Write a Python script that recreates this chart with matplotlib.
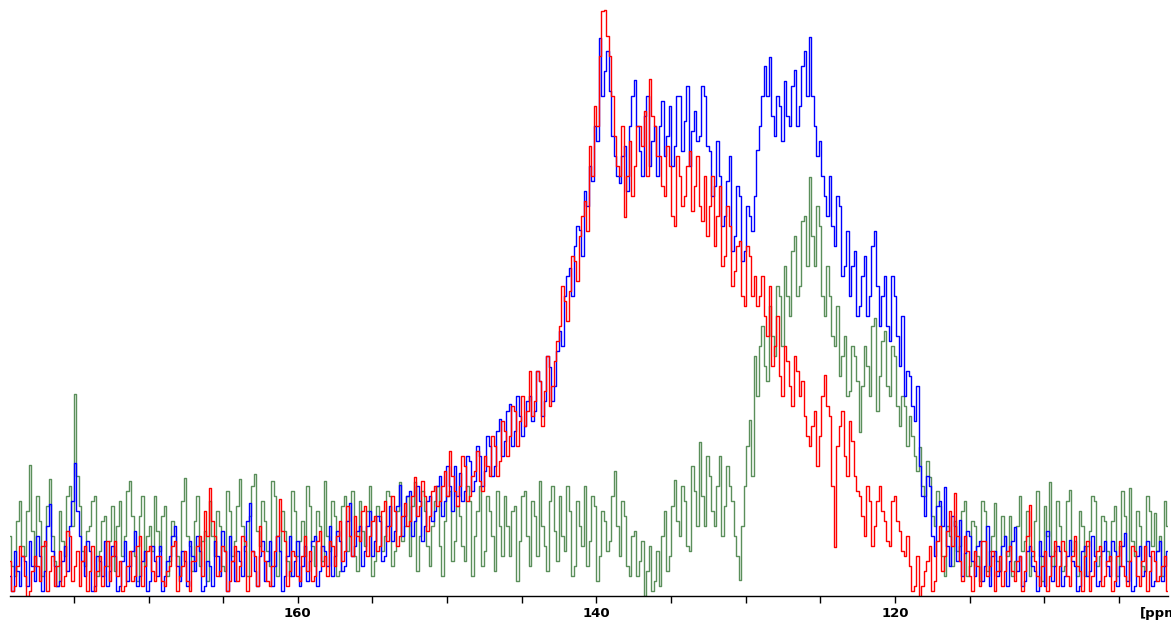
import numpy as np
import matplotlib
matplotlib.use("Agg")
import matplotlib.pyplot as plt
from matplotlib.ticker import MultipleLocator

# chemical shift window (ppm), axis runs high -> low
ppm_first = 179.28
ppm_last = 101.92
x_left, x_right = 179.28, 101.71

# intensities (arbitrary units), on-grid points
blue = [20, 45, 10, 35, 55, 15, 40, 25, 92, 30,
        15, 50, 70, 133, 60, 20, 45, 10, 35, 55,
        25, 40, 10, 55, 30, 65, 20, 45, 15, 35,
        50, 20, 40, 70, 15, 35, 55, 25, 45, 10,
        30, 55, 20, 45, 60, 15, 35, 50, 93, 25,
        40, 15, 55, 30, 45, 20, 60, 35, 10, 50,
        35, 60, 25, 45, 70, 40, 55, 30, 93, 50,
        70, 45, 85, 55, 75, 40, 90, 65, 111, 80,
        105, 75, 95, 70, 100, 85, 120, 95, 110, 130,
        123, 105, 135, 115, 140, 125, 150, 130, 177, 155,
        192, 165, 180, 170, 200, 185, 215, 195, 229, 210,
        265, 300, 328, 350, 366, 405, 430, 470, 558, 525,
        505, 440, 413, 450, 470, 516, 445, 480, 430, 470,
        470, 440, 490, 450, 500, 475, 430, 485, 460, 500,
        445, 410, 420, 380, 440, 360, 400, 345, 380, 400,
        470, 530, 539, 460, 490, 515, 470, 526, 490, 545,
        559, 470, 455, 400, 420, 350, 390, 330, 300, 345,
        290, 340, 300, 365, 270, 320, 255, 300, 230, 200,
        220, 175, 130, 80, 110, 40, 95, 109, 30, 70,
        76, 43, 60, 20, 55, 30, 10, 45, 25, 60,
        35, 69, 40, 15, 50, 25, 55, 10, 40, 30,
        45, 20, 56, 30, 10, 50, 25, 40, 15, 55,
        20, 45, 30, 63, 35, 10, 50, 25, 40, 15,
        55, 30]

# points half a step further along
blue_mid = [5, 25, 40, 10, 30, 60, 5, 70, 45, 10,
            35, 25, 95, 85, 35, 55, 5, 40, 20, 10,
            50, 5, 35, 15, 45, 10, 35, 5, 50, 20,
            5, 35, 60, 30, 45, 10, 40, 60, 5, 35,
            10, 40, 65, 5, 35, 45, 20, 75, 45, 10,
            55, 35, 10, 60, 5, 40, 20, 55, 30, 15,
            55, 10, 50, 30, 20, 65, 25, 75, 40, 65,
            30, 70, 40, 80, 35, 70, 55, 90, 60, 100,
            60, 110, 55, 95, 75, 110, 80, 130, 85, 100,
            95, 140, 105, 150, 110, 160, 120, 165, 140, 185,
            150, 200, 160, 195, 175, 225, 180, 240, 195, 245,
            250, 320, 300, 370, 340, 390, 415, 455, 500, 545,
            460, 420, 440, 405, 500, 470, 420, 500, 455, 420,
            495, 460, 430, 500, 445, 510, 465, 455, 510, 450,
            400, 455, 370, 415, 345, 410, 335, 390, 365, 446,
            500, 500, 480, 500, 455, 480, 510, 470, 530, 500,
            500, 440, 420, 380, 370, 400, 320, 365, 330, 280,
            320, 280, 350, 310, 300, 270, 320, 260, 280, 225,
            190, 210, 100, 120, 60, 90, 70, 50, 80, 35,
            20, 65, 35, 50, 15, 70, 40, 20, 50, 10,
            55, 25, 10, 45, 30, 5, 40, 65, 15, 50,
            10, 40, 35, 5, 45, 20, 60, 10, 45, 30,
            55, 10, 50, 15, 5, 40, 20, 55, 10, 45,
            15, 45]

red = [35, 10, 50, 20, 5, 40, 15, 55, 25, 10,
       45, 20, 60, 30, 10, 50, 25, 5, 40, 30,
       15, 55, 35, 10, 45, 20, 60, 30, 50, 15,
       40, 10, 30, 55, 20, 45, 5, 35, 60, 85,
       108, 60, 25, 45, 15, 50, 30, 55, 20, 40,
       70, 35, 10, 45, 97, 55, 25, 40, 15, 60,
       45, 20, 65, 40, 55, 30, 75, 45, 60, 80,
       55, 90, 60, 80, 50, 95, 70, 85, 60, 93,
       75, 119, 90, 100, 80, 110, 95, 125, 145, 105,
       110, 130, 100, 125, 115, 140, 120, 150, 135, 165,
       160, 185, 175, 170, 225, 195, 215, 205, 190, 235,
       270, 295, 305, 335, 360, 395, 450, 490, 540, 586,
       540, 460, 420, 379, 455, 430, 470, 485, 517, 470,
       440, 400, 430, 370, 420, 400, 445, 410, 390, 420,
       390, 350, 410, 340, 370, 325, 355, 290, 340, 320,
       300, 280, 310, 250, 220, 250, 210, 240, 200, 180,
       150, 185, 160, 221, 180, 49, 170, 140, 175, 120,
       100, 60, 95, 70, 110, 75, 50, 100, 65, 40,
       30, 10, -10, 25, 50, 15, 70, 40, 85, 103,
       35, 60, 20, 45, 10, 55, 30, 5, 40, 25,
       50, 15, 40, 25, 91, 35, 10, 45, 20, 55,
       30, 45, 10, 60, 25, 40, 5, 35, 50, 20,
       40, 15, 55, 20, 35, 45, 10, 50, 25, 35,
       20, 40]

red_mid = [5, 30, 40, 0, 25, 30, 50, 5, 40, 30,
           10, 65, 15, 45, 35, 5, 50, 25, 10, 55,
           40, 20, 5, 30, 15, 50, 10, 45, 25, 40,
           15, 25, 50, 5, 30, 15, 35, 50, 20, 60,
           75, 20, 50, 5, 35, 15, 60, 5, 45, 10,
           45, 15, 30, 60, 65, 10, 45, 20, 40, 25,
           15, 55, 30, 20, 50, 60, 35, 90, 40, 60,
           85, 40, 75, 45, 85, 55, 100, 50, 80, 70,
           100, 80, 115, 65, 105, 90, 110, 100, 120, 90,
           140, 95, 120, 145, 105, 130, 160, 120, 175, 140,
           190, 150, 200, 185, 180, 225, 170, 240, 210, 255,
           310, 275, 340, 315, 380, 365, 420, 470, 585, 560,
           500, 430, 470, 420, 400, 470, 450, 420, 480, 440,
           410, 450, 380, 440, 390, 430, 385, 440, 375, 360,
           420, 380, 330, 390, 310, 350, 300, 350, 300, 290,
           320, 260, 230, 280, 200, 235, 190, 225, 215, 160,
           170, 130, 200, 190, 110, 150, 185, 120, 155, 105,
           80, 110, 50, 95, 85, 55, 95, 75, 45, 60,
           5, 40, 10, 35, 5, 55, 25, 65, 50, 60,
           15, 45, 5, 30, 55, 20, 45, 25, 10, 45,
           25, 35, 5, 60, 45, 20, 30, 5, 40, 10,
           55, 20, 40, 30, 5, 55, 20, 45, 10, 35,
           5, 40, 30, 10, 50, 20, 35, 5, 45, 15,
           30, 5]

green = [60, 20, 95, 40, 131, 30, 75, 50, 117, 35,
         85, 40, 110, 202, 90, 30, 70, 100, 45, 80,
         55, 25, 95, 60, 115, 40, 80, 30, 70, 100,
         45, 90, 35, 60, 20, 118, 50, 75, 30, 65,
         95, 40, 70, 25, 85, 55, 117, 45, 80, 122,
         50, 75, 30, 100, 45, 65, 20, 85, 55, 40,
         90, 30, 70, 115, 45, 80, 25, 100, 60, 40,
         95, 50, 110, 35, 80, 60, 100, 45, 114, 70,
         40, 114, 60, 85, 30, 95, 50, 75, 105, 55,
         80, 35, 95, 60, 110, 45, 85, 25, 70, 100,
         40, 90, 55, 105, 30, 80, 115, 50, 95, 65,
         100, 45, 85, 30, 70, 110, 55, 90, 40, 75,
         55, 125, 40, 80, 20, 65, 35, 0, 50, 15,
         10, 85, 40, 116, 60, 95, 45, 105, 154, 70,
         120, 70, 140, 90, 110, 60, 16, 110, 176, 240,
         250, 230, 290, 240, 300, 330, 280, 360, 310, 380,
         419, 330, 370, 280, 300, 250, 220, 260, 205, 240,
         164, 250, 200, 278, 220, 265, 200, 240, 170, 190,
         180, 140, 149, 100, 119, 70, 90, 20, 60, 75,
         50, 95, 30, 70, 15, 85, 45, 93, 25, 60,
         80, 35, 100, 55, 20, 75, 40, 90, 114, 45,
         70, 30, 106, 55, 85, 20, 65, 95, 40, 75,
         35, 90, 50, 80, 108, 40, 70, 25, 85, 83,
         60, 95]

green_mid = [30, 75, 50, 85, 65, 100, 20, 90, 60, 10,
             55, 100, 70, 120, 45, 65, 95, 20, 75, 30,
             90, 70, 40, 105, 80, 15, 100, 60, 45, 65,
             80, 20, 75, 40, 95, 60, 25, 100, 55, 15,
             60, 85, 30, 105, 40, 90, 70, 20, 110, 65,
             95, 45, 115, 20, 85, 35, 105, 40, 75, 110,
             50, 85, 35, 60, 95, 20, 90, 45, 105, 25,
             65, 85, 20, 90, 45, 105, 30, 85, 55, 100,
             90, 25, 105, 50, 70, 110, 20, 100, 35, 90,
             50, 110, 20, 85, 30, 100, 60, 105, 40, 70,
             85, 15, 100, 60, 95, 40, 70, 25, 110, 35,
             60, 110, 20, 95, 50, 30, 100, 15, 85, 45,
             100, 70, 95, 30, 60, 20, 55, 25, 5, 45,
             60, 25, 90, 75, 110, 50, 130, 70, 100, 140,
             85, 110, 60, 130, 95, 40, 70, 150, 120, 200,
             270, 215, 260, 310, 250, 300, 345, 300, 375, 330,
             360, 390, 300, 330, 260, 290, 240, 200, 250, 215,
             210, 230, 270, 185, 255, 210, 250, 190, 200, 150,
             160, 125, 110, 135, 80, 105, 40, 70, 30, 45,
             85, 20, 75, 40, 95, 25, 60, 35, 80, 40,
             20, 70, 45, 85, 40, 105, 15, 60, 30, 95,
             25, 95, 45, 20, 70, 50, 100, 30, 80, 45,
             75, 20, 105, 35, 55, 85, 30, 100, 50, 45,
             20, 70]


def merge(a, b):
    out = np.empty(len(a) + len(b))
    out[0::2] = a
    out[1::2] = b
    return out


n = len(blue)
half = (ppm_first - ppm_last) / (n - 1) / 2
ppm = np.linspace(ppm_first, ppm_last - half, 2 * n)

fig = plt.figure(figsize=(11.71, 6.21), dpi=100)
ax = fig.add_axes([10/1171, 25/621, 1158/1171, 596/621])

ax.plot(ppm, merge(green, green_mid), drawstyle='steps-mid', color='#5b8f5b', lw=1.0)
ax.plot(ppm, merge(blue, blue_mid), drawstyle='steps-mid', color='#0000ff', lw=1.0)
ax.plot(ppm, merge(red, red_mid), drawstyle='steps-mid', color='#ff0000', lw=1.0)

ax.set_xlim(x_left, x_right)
ax.set_ylim(0, 596)

for s in ['top', 'left', 'right']:
    ax.spines[s].set_visible(False)
ax.spines['bottom'].set_linewidth(1.0)
ax.set_yticks([])

ax.xaxis.set_major_locator(MultipleLocator(20))
ax.xaxis.set_minor_locator(MultipleLocator(5))
ax.tick_params(axis='x', which='both', direction='out', length=5, width=1.0)
ax.tick_params(axis='x', which='major', pad=3, labelsize=9.5)
for lab in ax.get_xticklabels():
    lab.set_fontweight('bold')

# unit label runs off the right edge, as in the original
fig.text(1140/1171, 1 - 613/621, '[ppm]', fontsize=9.5, fontweight='bold',
         ha='left', va='center')

fig.savefig('out.png', dpi=100)
